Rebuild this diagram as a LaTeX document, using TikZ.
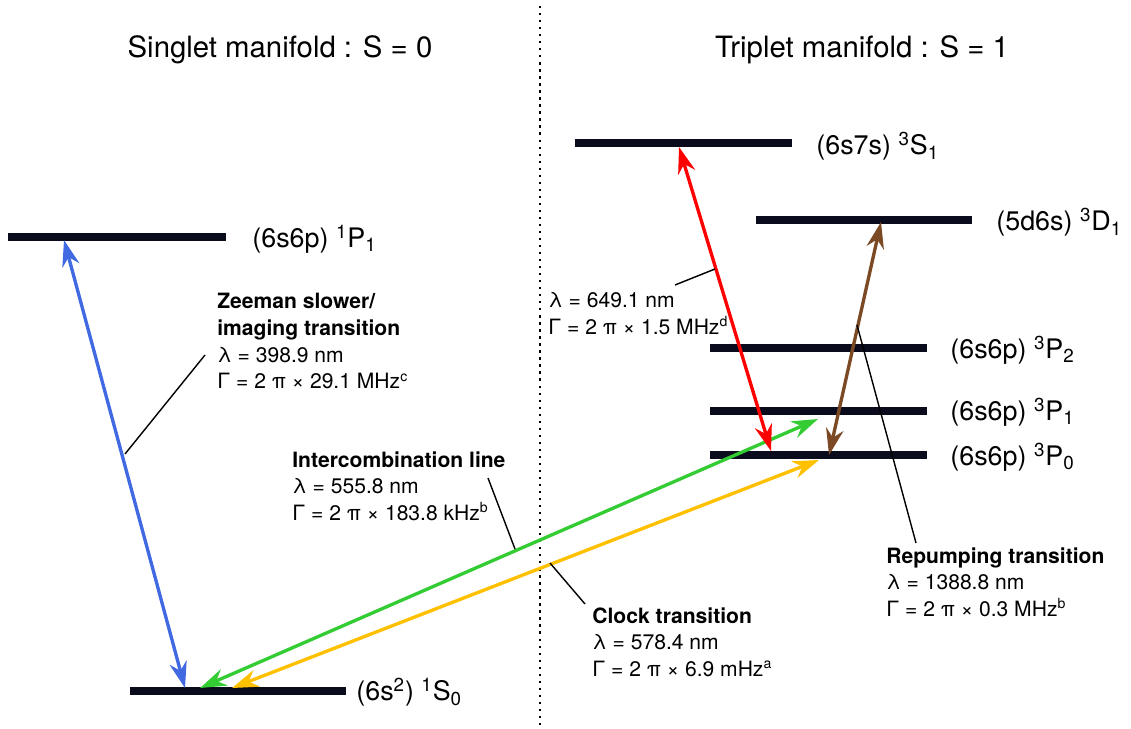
\documentclass[tikz,border=0pt]{standalone}
\usepackage{fontspec}
\setmainfont{TeX Gyre Heros}
\usepackage{xcolor}
\usepackage{tikz}
\usetikzlibrary{arrows.meta}

\definecolor{levelc}{HTML}{0B0B1E}
\definecolor{zsblue}{HTML}{4169E1}
\definecolor{icgreen}{HTML}{33CC33}
\definecolor{clkyellow}{HTML}{FFC000}
\definecolor{repbrown}{HTML}{7B4A24}

\begin{document}
\begin{tikzpicture}[x=0.02cm,y=-0.02cm,
 level/.style={draw=levelc,line width=4pt},
 lvlabel/.style={anchor=west,inner sep=0pt,font=\fontsize{15.3}{17}\selectfont},
 head/.style={inner sep=0pt,font=\fontsize{16.7}{19}\selectfont},
 info/.style={anchor=north west,inner sep=0pt,align=left,font=\fontsize{12}{15.2}\selectfont},
 trans/.style={line width=1.9pt,{Stealth[length=15pt,width=10pt]}-{Stealth[length=15pt,width=10pt]}},
 leader/.style={draw,line width=0.8pt}]
\useasboundingbox (0,0) rectangle (1131,729);

% headings and separator
\node[head] (sing) at (280,50) {Singlet manifold : S = 0};
\node[head] (trip) at (862,50) {Triplet manifold : S = 1};
\draw[line width=1.3pt,dash pattern=on 1.3pt off 2.7pt] (540,6) -- (540,729);

% energy levels
\draw[level] (8,237) -- (226,237);
\draw[level] (130,691) -- (346,691);
\draw[level] (575,143) -- (792,143);
\draw[level] (756,220) -- (972,220);
\draw[level] (710,348) -- (927,348);
\draw[level] (710,411) -- (927,411);
\draw[level] (710,455) -- (927,455);

\node[lvlabel] (l1P1) at (252,239) {(6s6p) \textsuperscript{1}P\textsubscript{1}};
\node[lvlabel] (l1S0) at (356,692) {(6s\textsuperscript{2}) \textsuperscript{1}S\textsubscript{0}};
\node[lvlabel] (l3S1) at (816,146) {(6s7s) \textsuperscript{3}S\textsubscript{1}};
\node[lvlabel] (l3D1) at (996,222) {(5d6s) \textsuperscript{3}D\textsubscript{1}};
\node[lvlabel] (l3P2) at (950,350) {(6s6p) \textsuperscript{3}P\textsubscript{2}};
\node[lvlabel] (l3P1) at (950,412) {(6s6p) \textsuperscript{3}P\textsubscript{1}};
\node[lvlabel] (l3P0) at (950,457) {(6s6p) \textsuperscript{3}P\textsubscript{0}};

% arrow end points
\coordinate (zsTop) at (64,240);
\coordinate (zsBot) at (185,688);
\coordinate (icBot) at (200,688);
\coordinate (icTop) at (818,419);
\coordinate (ckBot) at (232,688);
\coordinate (ckTop) at (819,460);
\coordinate (rdTop) at (679,147);
\coordinate (rdBot) at (771,451);
\coordinate (bnTop) at (881,222);
\coordinate (bnBot) at (829,455);

\draw[trans,zsblue] (zsTop) -- (zsBot);
\draw[trans,icgreen] (icBot) -- (icTop);
\draw[trans,clkyellow] (ckBot) -- (ckTop);
\draw[trans,red] (rdTop) -- (rdBot);
\draw[trans,repbrown] (bnTop) -- (bnBot);

% transition labels
\node[info] (zsTxt) at (217,293) {\textbf{Zeeman slower/}\\\textbf{imaging transition}\\λ = 398.9 nm\\Γ = 2 π × 29.1 MHz\textsuperscript{c}};
\node[info] (icTxt) at (292,451) {\textbf{Intercombination line}\\λ = 555.8 nm\\Γ = 2 π × 183.8 kHz\textsuperscript{b}};
\node[info] (ckTxt) at (592,607) {\textbf{Clock transition}\\λ = 578.4 nm\\Γ = 2 π × 6.9 mHz\textsuperscript{a}};
\node[info] (rdTxt) at (548,292) {λ = 649.1 nm\\Γ = 2 π × 1.5 MHz\textsuperscript{d}};
\node[info] (bnTxt) at (886,547) {\textbf{Repumping transition}\\λ = 1388.8 nm\\Γ = 2 π × 0.3 MHz\textsuperscript{b}};

% leader lines
\coordinate (zsA) at (125,454);
\coordinate (zsB) at (205,355);
\coordinate (icA) at (515,549);
\coordinate (icB) at (488,478);
\coordinate (ckA) at (550,563);
\coordinate (ckB) at (585,604);
\coordinate (rdA) at (715,269);
\coordinate (rdB) at (675,285);
\coordinate (bnA) at (857,325);
\coordinate (bnB) at (916,543);
\foreach \a/\b in {zsA/zsB,icA/icB,ckA/ckB,rdA/rdB,bnA/bnB}{\draw[leader] (\a) -- (\b);}
\end{tikzpicture}
\end{document}
